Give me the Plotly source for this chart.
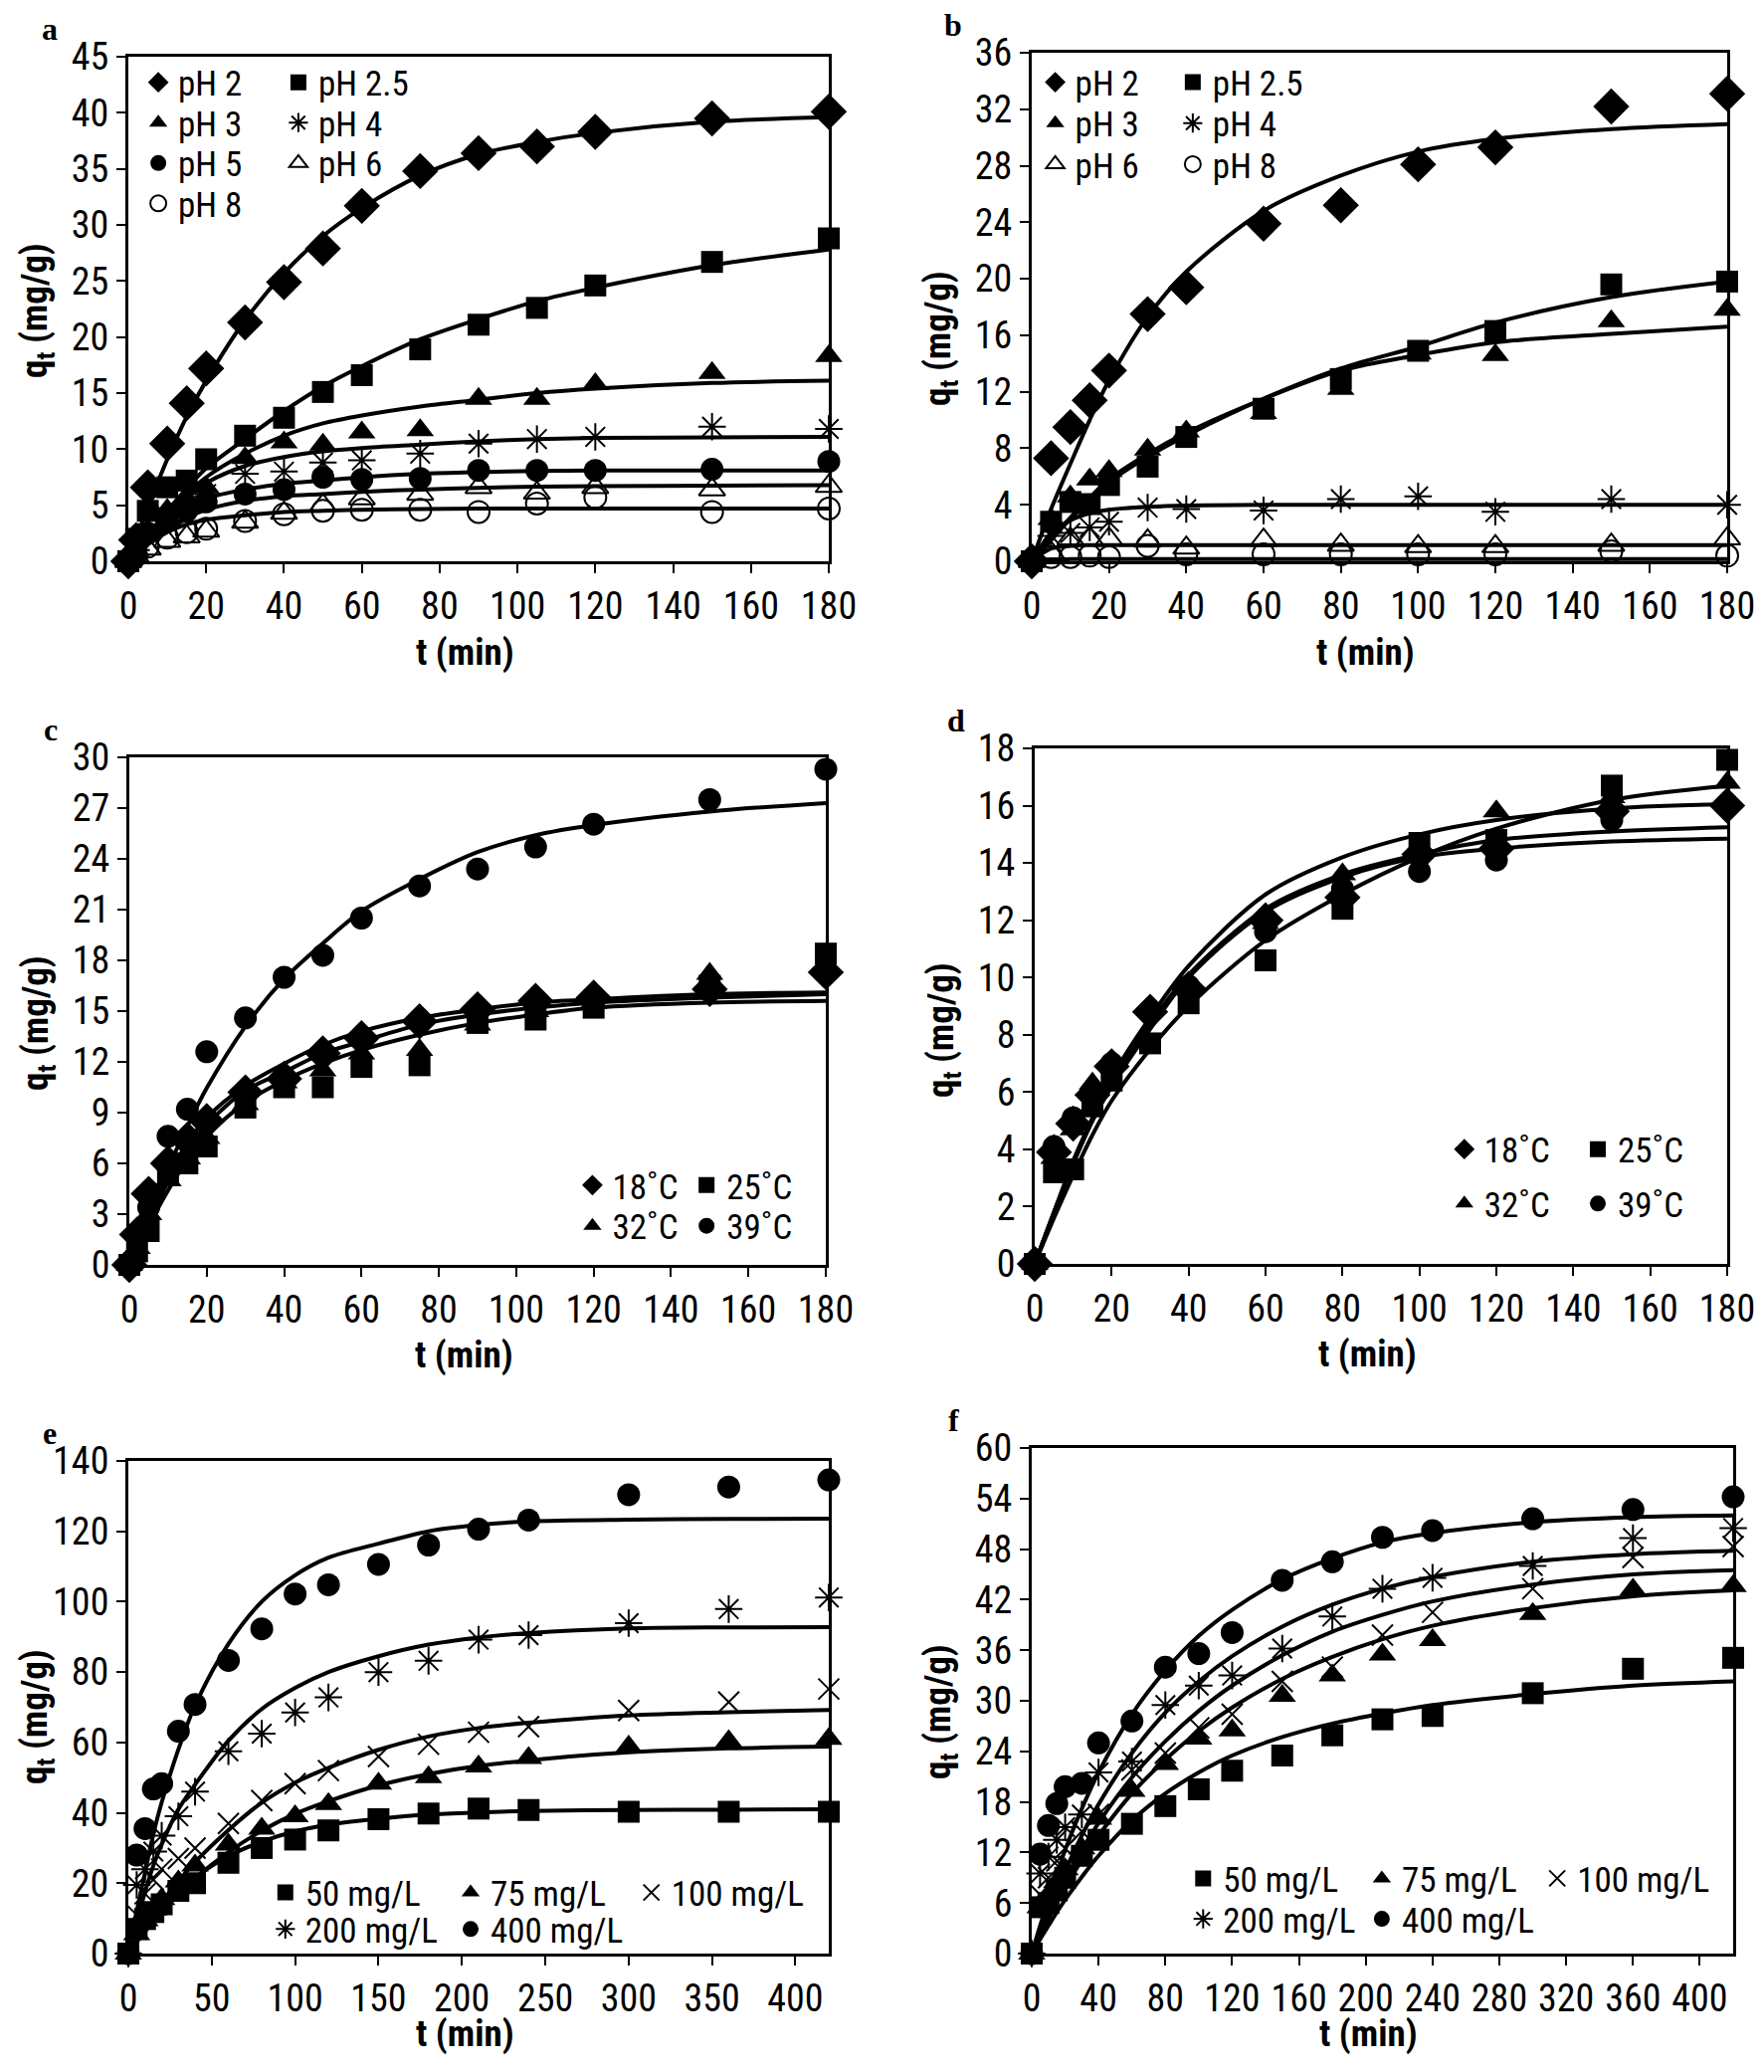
import plotly.graph_objects as go

W, H = 1773, 2082
OFF = 8  # the page body puts the figure 8 px in from each edge
W_FIG, H_FIG = W - 2 * OFF, H - 2 * OFF  # keeps the page free of scrollbars
TICK_FONT = "Liberation Sans Narrow, Roboto Condensed, DejaVu Sans Condensed, Open Sans, sans-serif"
LETTER_FONT = "Liberation Serif, Times New Roman, serif"

# ---- panel a : pH, first adsorbent ----
t_a = [0, 2, 5, 10, 15, 20, 30, 40, 50, 60, 75, 90, 105, 120, 150, 180]
a_ph2 = [0, 1.9, 6.6, 10.5, 14.1, 17.2, 21.3, 24.9, 27.9, 31.7, 34.8, 36.4, 37.0, 38.3, 39.5, 40.1]
a_ph25 = [0, 2.0, 4.5, 6.6, 7.2, 9.1, 11.2, 12.8, 15.1, 16.6, 18.9, 21.1, 22.6, 24.6, 26.7, 28.8]
a_ph3 = [0, 1.0, 2.8, 4.6, 5.6, 6.6, 9.2, 10.6, 10.4, 11.5, 11.7, 14.5, 14.5, 15.8, 16.8, 18.3]
a_ph4 = [0, 1.0, 2.5, 4.0, 5.0, 6.0, 7.8, 8.0, 8.8, 9.0, 9.6, 10.5, 10.9, 11.1, 12.0, 11.8]
a_ph5 = [0, 1.2, 2.5, 3.6, 4.5, 5.3, 6.0, 6.4, 7.5, 7.3, 7.4, 8.1, 8.1, 8.1, 8.2, 8.9]
a_ph6 = [0, 0.4, 1.1, 1.8, 2.2, 2.7, 3.5, 4.3, 5.0, 5.6, 6.0, 6.6, 6.1, 6.6, 6.4, 6.7]
a_ph8 = [0, 0.5, 1.3, 2.1, 2.6, 2.9, 3.6, 4.2, 4.5, 4.6, 4.6, 4.4, 5.15, 5.7, 4.4, 4.7]
a_fit2 = [0, 2.0, 4.8, 9.1, 12.9, 16.1, 21.5, 25.7, 29.0, 31.5, 34.4, 36.3, 37.4, 38.2, 39.2, 39.6]
a_fit25 = [0, 0.9, 2.3, 4.5, 6.5, 8.3, 10.9, 13.4, 15.6, 17.4, 19.8, 21.6, 23.2, 24.4, 26.4, 27.8]
a_fit3 = [0, 0.9, 2.2, 4.2, 6.0, 7.5, 9.6, 11.2, 12.3, 13.0, 13.8, 14.4, 15.0, 15.4, 15.9, 16.1]
a_fit4 = [0, 1.0, 2.4, 4.3, 5.8, 7.0, 8.5, 9.3, 9.8, 10.1, 10.4, 10.7, 10.9, 11.0, 11.05, 11.1]
a_fit5 = [0, 0.8, 2.0, 3.6, 4.8, 5.6, 6.4, 6.9, 7.2, 7.5, 7.8, 7.95, 8.05, 8.1, 8.1, 8.1]
a_fit6 = [0, 0.7, 1.7, 3.0, 3.9, 4.6, 5.4, 5.8, 6.0, 6.2, 6.4, 6.55, 6.65, 6.7, 6.75, 6.8]
a_fit8 = [0, 0.6, 1.5, 2.6, 3.3, 3.7, 4.1, 4.4, 4.5, 4.6, 4.65, 4.7, 4.7, 4.7, 4.7, 4.7]

# ---- panel b : pH, second adsorbent ----
t_b = [0, 5, 10, 15, 20, 30, 40, 60, 80, 100, 120, 150, 180]
b_ph2 = [0, 7.3, 9.5, 11.4, 13.5, 17.5, 19.4, 23.9, 25.2, 28.1, 29.3, 32.2, 33.1]
b_ph25 = [0, 2.8, 4.2, 4.05, 5.4, 6.7, 8.8, 10.8, 12.9, 14.9, 16.3, 19.6, 19.8]
b_ph3 = [0, 3.0, 4.6, 5.8, 6.4, 7.9, 9.2, 10.5, 12.2, 14.7, 14.6, 17.0, 17.8]
b_ph4 = [0, 1.8, 2.0, 2.4, 2.8, 3.8, 3.7, 3.6, 4.4, 4.6, 3.5, 4.4, 4.0]
b_ph6 = [0, 0.6, 1.6, 1.6, 1.6, 1.45, 0.95, 1.5, 1.15, 1.05, 1.05, 1.15, 1.6]
b_ph8 = [0, 0.3, 0.3, 0.4, 0.3, 1.1, 0.5, 0.5, 0.5, 0.5, 0.5, 0.7, 0.4]
b_fit2 = [0, 3.7, 6.9, 10.0, 12.8, 17.3, 20.5, 24.8, 27.3, 29.0, 29.9, 30.6, 30.95]
b_fit25 = [0, 1.5, 3.0, 4.3, 5.6, 7.4, 8.9, 11.5, 13.65, 15.2, 16.9, 18.7, 19.8]
b_fit3 = [0, 1.6, 3.1, 4.5, 5.8, 7.6, 9.1, 11.5, 13.5, 14.6, 15.5, 16.1, 16.6]
b_fit4 = [0, 2.0, 2.9, 3.4, 3.65, 3.85, 3.95, 4.0, 4.0, 4.0, 4.0, 4.0, 4.0]
b_fit6 = [0, 0.9, 1.1, 1.15, 1.15, 1.15, 1.15, 1.15, 1.15, 1.15, 1.15, 1.15, 1.15]
b_fit8 = [0, 0.12, 0.15, 0.15, 0.15, 0.15, 0.15, 0.15, 0.15, 0.15, 0.15, 0.15, 0.15]

# ---- panel c : temperature, first adsorbent ----
t_c = [0, 2, 5, 10, 15, 20, 30, 40, 50, 60, 75, 90, 105, 120, 150, 180]
c_18 = [0, 1.8, 4.2, 6.0, 7.4, 8.5, 10.2, 11.0, 12.5, 13.4, 14.4, 15.1, 15.6, 15.8, 16.3, 17.3]
c_25 = [0, 0.8, 2.0, 5.5, 6.0, 7.0, 9.3, 10.5, 10.5, 11.7, 11.8, 14.3, 14.5, 15.2, 16.5, 18.4]
c_32 = [0, 1.0, 3.0, 5.0, 6.3, 7.5, 9.5, 10.8, 11.5, 12.5, 12.7, 14.2, 15.0, 15.5, 17.2, 17.5]
c_39 = [0, 1.8, 3.4, 7.6, 9.2, 12.6, 14.6, 17.0, 18.3, 20.5, 22.4, 23.4, 24.7, 26.05, 27.5, 29.3]
c_fit18 = [0, 1.2, 2.9, 5.3, 7.2, 8.7, 10.6, 11.9, 13.0, 13.8, 14.6, 15.1, 15.5, 15.7, 16.0, 16.1]
c_fit25 = [0, 0.9, 2.3, 4.4, 6.2, 7.6, 9.6, 10.9, 11.9, 12.7, 13.6, 14.3, 14.8, 15.2, 15.5, 15.6]
c_fit32 = [0, 1.0, 2.6, 4.9, 6.8, 8.3, 10.3, 11.4, 12.5, 13.2, 14.2, 14.8, 15.2, 15.5, 15.8, 16.0]
c_fit39 = [0, 1.2, 3.0, 5.7, 8.2, 10.45, 14.1, 16.9, 19.0, 20.9, 22.8, 24.4, 25.4, 26.0, 26.8, 27.3]

# ---- panel d : temperature, second adsorbent ----
t_d = [0, 5, 10, 15, 20, 30, 40, 60, 80, 100, 120, 150, 180]
d_18 = [0, 3.9, 4.9, 5.9, 6.9, 8.8, 9.6, 12.0, 12.8, 14.3, 14.5, 15.8, 16.0]
d_25 = [0, 3.2, 3.3, 5.5, 6.4, 7.7, 9.1, 10.6, 12.4, 14.7, 14.8, 16.7, 17.6]
d_32 = [0, 3.7, 4.7, 6.3, 7.0, 8.9, 9.8, 11.9, 13.6, 14.5, 15.8, 16.3, 16.8]
d_39 = [0, 4.1, 5.1, 6.0, 7.0, 8.8, 9.7, 11.6, 13.1, 13.7, 14.1, 15.5, 16.0]
d_fit18 = [0, 1.8, 3.5, 5.0, 6.3, 8.4, 10.1, 12.4, 13.6, 14.3, 14.8, 15.1, 15.25]
d_fit25 = [0, 1.6, 3.1, 4.5, 5.7, 7.5, 9.0, 11.3, 12.9, 14.2, 15.2, 16.2, 16.7]
d_fit32 = [0, 1.8, 3.6, 5.1, 6.5, 8.6, 10.4, 12.9, 14.2, 15.0, 15.5, 15.9, 16.05]
d_fit39 = [0, 1.8, 3.5, 5.0, 6.2, 8.2, 10.0, 12.3, 13.5, 14.2, 14.5, 14.75, 14.85]

# ---- panel e : initial concentration, first adsorbent ----
t_e = [0, 5, 10, 15, 20, 30, 40, 60, 80, 100, 120, 150, 180, 210, 240, 300, 360, 420]
e_50 = [0, 7, 9.8, 11.8, 14, 17.8, 20, 25.8, 30, 32.4, 35, 38.2, 39.8, 41.2, 40.8, 40.3, 40.3, 40.3]
e_75 = [0, 5.5, 9.5, 12.5, 15.5, 20.5, 25, 31, 35.5, 39, 42.5, 48.3, 50.1, 53.2, 55.6, 58.8, 60.4, 61]
e_100 = [0, 11, 17, 21, 24, 27, 30, 37, 43.5, 48.3, 52, 56, 59.5, 62.9, 64.5, 69.1, 71.5, 75.2]
e_200 = [0, 19.5, 24, 29, 33.5, 39, 46, 57.5, 62.5, 68.5, 72.8, 80, 83.2, 89.2, 90.5, 93.9, 97.9, 101.2]
e_400 = [0, 28, 35.5, 46.8, 48.3, 63.2, 70.8, 83.3, 92.3, 102.2, 104.8, 110.6, 116.1, 120.6, 123.2, 130.4, 132.6, 134.6]
e_fit50 = [0, 3.5, 6.8, 9.8, 12.6, 17.5, 21.6, 27.7, 31.8, 34.7, 36.6, 38.3, 39.5, 40.1, 40.5, 40.8, 40.9, 41.0]
e_fit75 = [0, 3.2, 6.2, 9.1, 11.8, 16.9, 21.4, 28.8, 34.9, 39.7, 43.3, 47.8, 51.0, 53.3, 54.9, 57.2, 58.3, 58.8]
e_fit100 = [0, 4.0, 7.9, 11.3, 14.6, 20.6, 26.0, 35.1, 42.9, 48.6, 52.8, 57.9, 61.7, 64.1, 65.6, 67.7, 68.6, 69.2]
e_fit200 = [0, 9, 17.5, 25, 31, 41, 48, 60.5, 69.5, 75.5, 80, 84.5, 87.8, 89.8, 91.1, 92.4, 92.7, 92.8]
e_fit400 = [0, 12, 23, 34, 43, 58, 70.5, 88, 100, 107.5, 112.5, 116.5, 120, 121.8, 122.8, 123.3, 123.5, 123.6]

# ---- panel f : initial concentration, second adsorbent ----
t_f = [0, 5, 10, 15, 20, 30, 40, 60, 80, 100, 120, 150, 180, 210, 240, 300, 360, 420]
f_50 = [0, 5.5, 6, 7.5, 9, 11.6, 13.5, 15.4, 17.5, 19.5, 21.7, 23.5, 25.9, 27.8, 28.2, 30.9, 33.8, 35.1]
f_75 = [0, 5.5, 7, 8.5, 10, 12.5, 16, 19.3, 22.5, 25.5, 26.5, 30.6, 33, 35.5, 37.2, 40.3, 43.2, 43.6]
f_100 = [0, 7, 9, 11, 12.5, 14.5, 16.5, 21.8, 23.8, 26.8, 28.4, 32.3, 34, 37.8, 40.5, 43.3, 47, 48.3]
f_200 = [0, 9.5, 11.5, 13.5, 15, 16.5, 21.5, 22.8, 29.5, 31.8, 33, 36.2, 40, 43.3, 44.6, 46, 49.3, 50.5]
f_400 = [0, 11.8, 15.2, 17.8, 19.8, 20.2, 25, 27.6, 34, 35.6, 38.1, 44.3, 46.5, 49.4, 50.2, 51.6, 52.7, 54.2]
f_fit50 = [0, 1.7, 3.3, 4.9, 6.4, 9.1, 11.6, 15.8, 19.0, 21.5, 23.5, 25.7, 27.3, 28.5, 29.5, 30.8, 31.8, 32.3]
f_fit75 = [0, 2.1, 4.1, 6.0, 7.8, 11.1, 14.0, 19.0, 23.0, 26.4, 29.2, 32.6, 35.2, 37.3, 38.9, 41.0, 42.4, 43.1]
f_fit100 = [0, 2.3, 4.5, 6.6, 8.6, 12.3, 15.5, 20.9, 25.2, 28.8, 31.8, 35.4, 38.2, 40.2, 41.8, 43.8, 45.0, 45.5]
f_fit200 = [0, 2.6, 5.1, 7.5, 9.8, 14.0, 17.7, 23.8, 28.6, 32.3, 35.3, 38.8, 41.4, 43.3, 44.7, 46.5, 47.4, 47.8]
f_fit400 = [0, 3.3, 6.4, 9.4, 12.3, 17.2, 21.5, 28.4, 33.6, 37.7, 40.8, 44.4, 46.9, 48.8, 49.9, 51.2, 51.8, 52.0]

# marker styles (Excel-like black markers)
MARK = {
    "diamond": dict(symbol="diamond", size=28, color="black"),
    "square": dict(symbol="square", size=22, color="black"),
    "triangle": dict(symbol="triangle-up", size=24, color="black"),
    "circle": dict(symbol="circle", size=23, color="black"),
    "star": dict(symbol="asterisk-open", size=23, color="black", line=dict(color="black", width=2)),
    "cross": dict(symbol="x-thin-open", size=21, color="black", line=dict(color="black", width=2)),
    "otri": dict(symbol="triangle-up-open", size=23, color="black", line=dict(color="black", width=2)),
    "ocirc": dict(symbol="circle-open", size=22, color="black", line=dict(color="black", width=2)),
}

# (label, observed, fitted, marker, legend position in data units)
panels = [
    dict(letter="a", box=(129, 57, 833, 564), xmax=180, xdtick=20, ymax=45, ydtick=5, t=t_a,
         ytitle_y=312, xtitle_gap=92, series=[
             ("pH 2", a_ph2, a_fit2, "diamond", (10, 42.7)),
             ("pH 2.5", a_ph25, a_fit25, "square", (46, 42.7)),
             ("pH 3", a_ph3, a_fit3, "triangle", (10, 39.1)),
             ("pH 4", a_ph4, a_fit4, "star", (46, 39.1)),
             ("pH 5", a_ph5, a_fit5, "circle", (10, 35.5)),
             ("pH 6", a_ph6, a_fit6, "otri", (46, 35.5)),
             ("pH 8", a_ph8, a_fit8, "ocirc", (10, 31.9)),
         ]),
    dict(letter="b", box=(1037, 53, 1736, 564), xmax=180, xdtick=20, ymax=36, ydtick=4, t=t_b,
         ytitle_y=340, xtitle_gap=92, series=[
             ("pH 2", b_ph2, b_fit2, "diamond", (8.4, 33.9)),
             ("pH 2.5", b_ph25, b_fit25, "square", (44, 33.9)),
             ("pH 3", b_ph3, b_fit3, "triangle", (8.4, 31.0)),
             ("pH 4", b_ph4, b_fit4, "star", (44, 31.0)),
             ("pH 6", b_ph6, b_fit6, "otri", (8.4, 28.1)),
             ("pH 8", b_ph8, b_fit8, "ocirc", (44, 28.1)),
         ]),
    dict(letter="c", box=(130, 761, 830, 1271), xmax=180, xdtick=20, ymax=30, ydtick=3, t=t_c,
         ytitle_y=1028, xtitle_gap=90, series=[
             ("18˚C", c_18, c_fit18, "diamond", (122, 4.7)),
             ("25˚C", c_25, c_fit25, "square", (151.5, 4.7)),
             ("32˚C", c_32, c_fit32, "triangle", (122, 2.3)),
             ("39˚C", c_39, c_fit39, "circle", (151.5, 2.3)),
         ]),
    dict(letter="d", box=(1040, 752, 1736, 1270), xmax=180, xdtick=20, ymax=18, ydtick=2, t=t_d,
         ytitle_y=1035, xtitle_gap=90, series=[
             ("18˚C", d_18, d_fit18, "diamond", (114, 4.0)),
             ("25˚C", d_25, d_fit25, "square", (148.7, 4.0)),
             ("32˚C", d_32, d_fit32, "triangle", (114, 2.1)),
             ("39˚C", d_39, d_fit39, "circle", (148.7, 2.1)),
         ]),
    dict(letter="e", box=(129, 1468, 833, 1963), xmax=420, xdtick=50, ymax=140, ydtick=20, t=t_e,
         ytitle_y=1725, xtitle_gap=80, series=[
             ("50 mg/L", e_50, e_fit50, "square", (99.5, 17.3)),
             ("75 mg/L", e_75, e_fit75, "triangle", (210.6, 17.3)),
             ("100 mg/L", e_100, e_fit100, "cross", (319, 17.3)),
             ("200 mg/L", e_200, e_fit200, "star", (99.5, 6.9)),
             ("400 mg/L", e_400, e_fit400, "circle", (210.6, 6.9)),
         ]),
    dict(letter="f", box=(1037, 1455, 1742, 1963), xmax=420, xdtick=40, ymax=60, ydtick=6, t=t_f,
         ytitle_y=1720, xtitle_gap=80, series=[
             ("50 mg/L", f_50, f_fit50, "square", (108, 8.9)),
             ("75 mg/L", f_75, f_fit75, "triangle", (215, 8.9)),
             ("100 mg/L", f_100, f_fit100, "cross", (320, 8.9)),
             ("200 mg/L", f_200, f_fit200, "star", (108, 4.1)),
             ("400 mg/L", f_400, f_fit400, "circle", (215, 4.1)),
         ]),
]

AXIS = dict(showline=True, linecolor="black", linewidth=3, mirror=True, ticks="outside",
            ticklen=9, tickwidth=2, tickcolor="black", showgrid=False, zeroline=False,
            fixedrange=True, automargin=False, ticklabelstandoff=0, ticklabeloverflow="allow",
            tickfont=dict(family=TICK_FONT, size=38, color="black"))

fig = go.Figure()
layout = dict(width=W_FIG, height=H_FIG, margin=dict(l=0, r=0, t=0, b=0, autoexpand=False),
              plot_bgcolor="white", paper_bgcolor="white", showlegend=True)
annotations = []
leg_n = 0


def fx(px):
    return (px - OFF) / W_FIG


def fy(py):
    return 1 - (py - OFF) / H_FIG


def note(text, x, y, font, angle=0):
    return dict(text=text, x=fx(x), y=fy(y), xref="paper", yref="paper", showarrow=False,
                xanchor="center", yanchor="middle", textangle=angle, font=font)


for i, p in enumerate(panels, start=1):
    sfx = "" if i == 1 else str(i)
    x0, y0, x1, y1 = p["box"]
    layout["xaxis" + sfx] = dict(domain=[fx(x0), fx(x1)], range=[0, p["xmax"]], dtick=p["xdtick"],
                                 anchor="y" + sfx, **AXIS)
    layout["yaxis" + sfx] = dict(domain=[fy(y1), fy(y0)], range=[0, p["ymax"]], dtick=p["ydtick"],
                                 anchor="x" + sfx, **AXIS)

    # fitted curves (Excel-style smoothed lines)
    for name, obs, fit, mk, pos in p["series"]:
        fig.add_trace(go.Scatter(x=p["t"], y=fit, mode="lines", showlegend=False, hoverinfo="skip",
                                 line=dict(color="black", width=4, shape="spline", smoothing=0.9),
                                 xaxis="x" + sfx, yaxis="y" + sfx))

    # measured points, one small legend per entry so the grid layout can be reproduced
    for name, obs, fit, mk, pos in p["series"]:
        leg_n += 1
        lname = "legend" if leg_n == 1 else f"legend{leg_n}"
        fig.add_trace(go.Scatter(x=p["t"], y=obs, mode="markers", name=name, marker=MARK[mk],
                                 cliponaxis=False, legend=lname, xaxis="x" + sfx, yaxis="y" + sfx))
        px = x0 + pos[0] / p["xmax"] * (x1 - x0)
        py = y1 - pos[1] / p["ymax"] * (y1 - y0)
        layout[lname] = dict(x=fx(px - 29), y=fy(py), xanchor="left", yanchor="middle",
                             bgcolor="rgba(0,0,0,0)", borderwidth=0,
                             font=dict(family=TICK_FONT, size=35, color="black"))

    title_font = dict(family=TICK_FONT, size=37, color="black")
    annotations.append(note(f"<b>{p['letter']}</b>", x0 - 79, y0 - 28,
                            dict(family=LETTER_FONT, size=32, color="black")))
    annotations.append(note("<b>t (min)</b>", (x0 + x1) / 2 - 14, y1 + p["xtitle_gap"], title_font))
    annotations.append(note("<b>q<sub>t</sub> (mg/g)</b>", x0 - 92, p["ytitle_y"], title_font, -90))

layout["annotations"] = annotations
fig.update_layout(**layout)
fig.write_html("out.html")
